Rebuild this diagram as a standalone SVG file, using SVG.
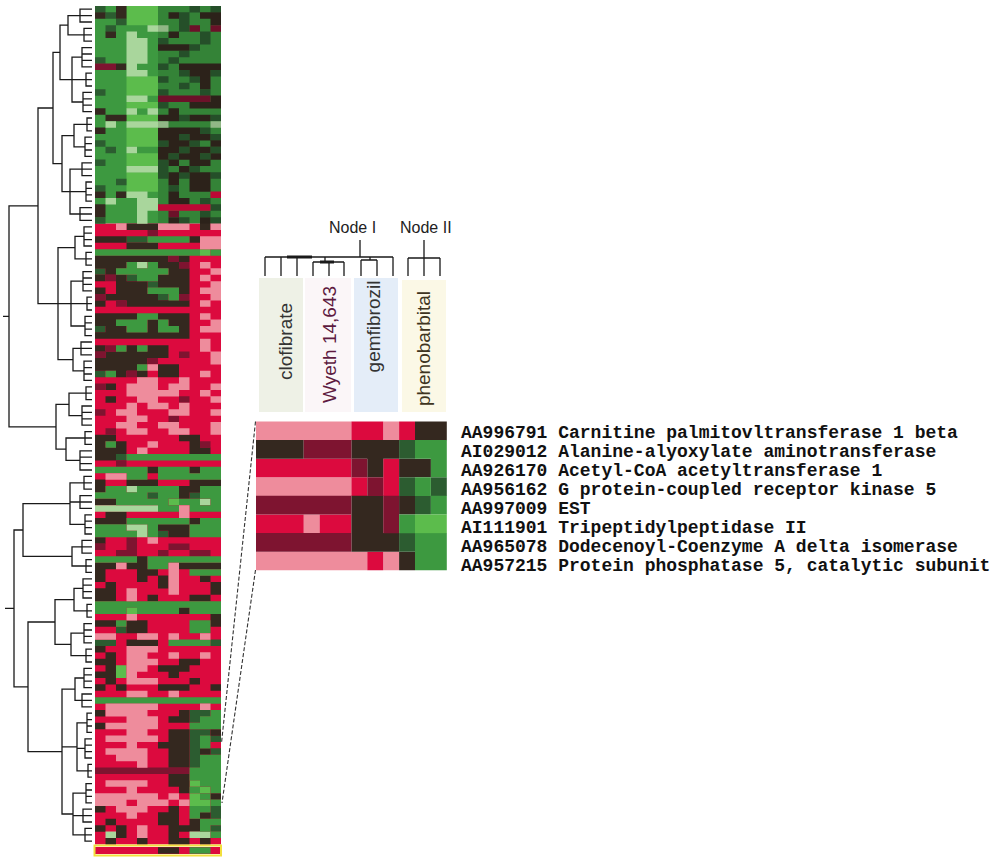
<svg xmlns="http://www.w3.org/2000/svg" width="991" height="858" viewBox="0 0 991 858">
<style>
.hm path{fill:none;stroke-width:6.5}
.zm path{fill:none;stroke-width:18.7}
.g{stroke:#3d9940}.b{stroke:#5cbc4c}.l{stroke:#a9d69c}.d{stroke:#2c5c30}.k{stroke:#34281f}.m{stroke:#7e1430}.r{stroke:#dc0a3e}.p{stroke:#ee8c9c}
.dg{fill:none;stroke:#1a1a1a;stroke-width:1.3}
.con{fill:none;stroke:#333;stroke-width:1.1;stroke-dasharray:4 2}
.lab{font-family:"Liberation Sans",Arial,sans-serif;font-size:19px;text-anchor:middle}
.node{font-family:"Liberation Sans",Arial,sans-serif;font-size:16px;fill:#222}
.gene{font-family:"Liberation Mono","Courier New",monospace;font-size:18px;font-weight:bold;fill:#111}
</style>
<rect width="991" height="858" fill="#fff"/>
<g id="row-dendrogram">
<path class="dg" d="M92 9.2H80V22H92M80 15.6H92M92 28.4H84V41.2H92M84 34.8H92M92 47.6H82V66.8H92M82 54H92M82 60.4H92M92 73.2H86V86H92M86 79.6H92M92 92.4H83V111.6H92M83 98.8H92M83 105.2H92M92 118H87V130.8H92M87 124.4H92M92 137.2H85V156.4H92M85 143.6H92M85 150H92M92 162.8H82V175.6H92M82 169.2H92M92 182H86V201.2H92M86 188.4H92M86 194.8H92M92 207.6H80V220.4H92M80 214H92M92 226.8H84V246H92M84 233.2H92M84 239.6H92M92 252.4H86V265.2H92M86 258.8H92M92 271.6H83V290.8H92M83 278H92M83 284.4H92M92 297.2H87V310H92M87 303.6H92M92 316.4H85V335.6H92M85 322.8H92M85 329.2H92M92 342H81V354.8H92M81 348.4H92M92 361.2H84V380.4H92M84 367.6H92M84 374H92M92 386.8H86V399.6H92M86 393.2H92M92 406H82V425.2H92M82 412.4H92M82 418.8H92M92 431.6H85V444.4H92M85 438H92M92 450.8H80V470H92M80 457.2H92M80 463.6H92M92 476.4H84V489.2H92M84 482.8H92M92 495.6H80V508.4H92M80 502H92M92 514.8H85V534H92M85 521.2H92M85 527.6H92M92 540.4H82V553.2H92M82 546.8H92M92 559.6H86V572.4H92M86 566H92M92 578.8H83V598H92M83 585.2H92M83 591.6H92M92 604.4H87V617.2H92M87 610.8H92M92 623.6H84V642.8H92M84 630H92M84 636.4H92M92 649.2H86V662H92M86 655.6H92M92 668.4H84V687.6H92M84 674.8H92M84 681.2H92M92 694H82V706.8H92M82 700.4H92M92 713.2H87V732.4H92M87 719.6H92M87 726H92M92 738.8H85V758H92M85 745.2H92M85 751.6H92M92 764.4H88V777.2H92M88 770.8H92M92 783.6H86V802.8H92M86 790H92M86 796.4H92M92 809.2H83V822H92M83 815.6H92M92 828.4H85V841.2H92M85 834.8H92"/>
<path class="dg" d="M80 15.6H68V34.8H84M82 57.2H72V102H83M72 79.6H86M87 124.4H74V146.8H85M82 169.2H70V214H80M70 191.6H86M84 236.4H75V258.8H86M83 281.2H71V326H85M71 303.6H87M81 348.4H73V370.8H84M86 393.2H69V415.6H82M85 438H66V460.4H80M84 482.8H70V524.4H85M70 502H80M82 546.8H72V566H86M83 588.4H74V610.8H87M84 633.2H71V655.6H86M84 678H75V700.4H82M87 722.8H77V770.8H88M77 748.4H85M86 793.2H73V834.8H85M73 815.6H83"/>
<path class="dg" d="M68 25.2H60V79.6H72M74 135.6H62V191.6H70M75 247.6H58V359.6H73M58 303.6H71M69 404.4H56V449.2H66M70 503.6H23V556.4H72M74 599.6H55V644.4H71M75 689.2H62V814H73M62 746.8H77"/>
<path class="dg" d="M60 52.4H53V163.6H62M53 108H38V303.6H58M38 205.8H9V426.8H56M3 316.3H9M55 622H28V751.6H62M23 530H14V686.8H28M5 608.4H14"/>
</g>
<g id="heatmap" class="hm">
<rect x="95" y="6" width="126" height="217.6" fill="#3d9940"/>
<rect x="95" y="223.6" width="126" height="620.8" fill="#dc0a3e"/>
<path class="b" d="M126.5 9.2h31.5M126.5 15.6h31.5M126.5 22h31.5M126.5 79.6h31.5M126.5 86h31.5M126.5 92.4h31.5M126.5 105.2h31.5M126.5 118h31.5M126.5 130.8h31.5M126.5 137.2h31.5M126.5 143.6h31.5M126.5 156.4h31.5M126.5 162.8h31.5M126.5 175.6h31.5M126.5 182h31.5M126.5 188.4h31.5M200 252.4h10.5M168.5 502h10.5M126.5 610.8h10.5M116 668.4h10.5M116 674.8h10.5M189.5 783.6h10.5M200 790h10.5M189.5 796.4h10.5M189.5 802.8h21"/>
<path class="d" d="M95 9.2h10.5M189.5 9.2h10.5M210.5 9.2h10.5M105.5 15.6h10.5M179 15.6h10.5M116 22h10.5M179 22h10.5M105.5 28.4h10.5M179 28.4h10.5M200 34.8h10.5M158 41.2h10.5M200 41.2h10.5M189.5 47.6h10.5M179 54h10.5M95 60.4h10.5M168.5 60.4h10.5M158 66.8h10.5M179 73.2h10.5M210.5 73.2h10.5M158 79.6h10.5M189.5 79.6h10.5M179 86h10.5M95 92.4h10.5M158 92.4h10.5M200 92.4h10.5M158 105.2h10.5M179 118h10.5M210.5 118h10.5M200 130.8h10.5M179 137.2h10.5M210.5 137.2h10.5M95 143.6h10.5M158 143.6h10.5M189.5 143.6h10.5M105.5 150h10.5M179 150h10.5M210.5 150h10.5M168.5 156.4h10.5M200 156.4h10.5M95 162.8h10.5M158 162.8h10.5M158 169.2h10.5M189.5 169.2h10.5M158 175.6h10.5M179 175.6h10.5M210.5 175.6h10.5M116 182h10.5M95 188.4h10.5M168.5 188.4h10.5M200 201.2h10.5M210.5 207.6h10.5M200 214h10.5M95 220.4h10.5M179 220.4h10.5M210.5 220.4h10.5M126.5 239.6h21M95 271.6h10.5M126.5 278h10.5M147.5 284.4h10.5M158 297.2h10.5M95 329.2h10.5M95 374h10.5M116 457.2h10.5M147.5 495.6h10.5M189.5 495.6h10.5M158 534h10.5M116 630h10.5M95 642.8h21M210.5 642.8h10.5M189.5 713.2h21M189.5 719.6h10.5M189.5 732.4h21M189.5 738.8h10.5M210.5 738.8h10.5M189.5 745.2h10.5M189.5 751.6h10.5M210.5 751.6h10.5M189.5 758h10.5M189.5 764.4h10.5M210.5 809.2h10.5M210.5 815.6h10.5M210.5 828.4h10.5"/>
<path class="k" d="M116 9.2h10.5M95 15.6h10.5M116 15.6h10.5M168.5 15.6h10.5M200 15.6h21M210.5 22h10.5M105.5 34.8h10.5M168.5 34.8h10.5M158 47.6h31.5M116 66.8h10.5M179 66.8h42M189.5 73.2h21M200 79.6h10.5M200 86h10.5M210.5 98.8h10.5M189.5 105.2h31.5M95 111.6h10.5M168.5 111.6h10.5M105.5 118h21M158 118h21M189.5 118h21M95 130.8h10.5M158 130.8h42M158 137.2h21M189.5 137.2h21M168.5 143.6h21M210.5 143.6h10.5M158 150h21M189.5 150h21M158 156.4h10.5M179 156.4h21M210.5 156.4h10.5M168.5 162.8h10.5M189.5 162.8h21M179 169.2h10.5M168.5 175.6h10.5M189.5 175.6h21M168.5 182h10.5M189.5 182h21M189.5 188.4h21M95 194.8h10.5M116 194.8h10.5M168.5 194.8h10.5M168.5 201.2h21M95 207.6h10.5M95 214h10.5M168.5 220.4h10.5M200 220.4h10.5M126.5 226.8h31.5M200 226.8h10.5M95 239.6h31.5M189.5 239.6h10.5M126.5 246h31.5M95 258.8h73.5M179 258.8h10.5M95 265.2h31.5M158 265.2h21M105.5 271.6h10.5M168.5 271.6h21M95 278h10.5M116 278h10.5M158 278h31.5M116 284.4h31.5M158 284.4h31.5M95 290.8h10.5M116 290.8h31.5M179 290.8h10.5M105.5 297.2h52.5M95 303.6h10.5M126.5 303.6h63M95 316.4h42M158 316.4h31.5M95 322.8h21M147.5 322.8h10.5M168.5 322.8h21M105.5 329.2h21M147.5 329.2h10.5M179 329.2h10.5M95 335.6h94.5M95 348.4h10.5M126.5 348.4h10.5M147.5 348.4h21M105.5 354.8h63M95 361.2h52.5M95 367.6h42M158 367.6h21M116 374h10.5M137 374h10.5M158 374h21M105.5 386.8h10.5M105.5 399.6h10.5M95 438h21M179 438h21M95 444.4h10.5M116 444.4h10.5M189.5 444.4h10.5M95 450.8h31.5M189.5 450.8h21M95 457.2h21M147.5 470h10.5M189.5 470h10.5M95 482.8h10.5M126.5 482.8h31.5M189.5 482.8h31.5M95 489.2h10.5M179 489.2h21M179 495.6h10.5M95 502h21M105.5 514.8h21M95 521.2h31.5M189.5 521.2h10.5M158 527.6h31.5M168.5 534h21M95 540.4h10.5M137 559.6h10.5M95 566h21M126.5 566h21M179 566h42M95 572.4h10.5M137 572.4h21M95 578.8h10.5M137 578.8h10.5M158 578.8h10.5M200 578.8h10.5M105.5 585.2h10.5M158 585.2h10.5M210.5 585.2h10.5M95 591.6h21M210.5 591.6h10.5M95 598h21M147.5 598h10.5M189.5 598h21M179 610.8h10.5M210.5 617.2h10.5M95 623.6h21M126.5 623.6h21M210.5 623.6h10.5M126.5 630h21M126.5 642.8h31.5M95 649.2h10.5M105.5 655.6h10.5M95 662h21M179 662h21M105.5 668.4h10.5M158 668.4h31.5M95 674.8h21M168.5 674.8h10.5M105.5 681.2h10.5M189.5 681.2h10.5M95 687.6h10.5M116 687.6h10.5M158 687.6h31.5M210.5 687.6h10.5M95 713.2h10.5M179 713.2h10.5M168.5 719.6h21M95 726h10.5M168.5 732.4h21M210.5 732.4h10.5M168.5 738.8h21M158 745.2h31.5M168.5 751.6h21M200 751.6h10.5M168.5 758h21M168.5 764.4h21M168.5 777.2h21M168.5 783.6h21M179 790h10.5M210.5 796.4h10.5M95 809.2h10.5M168.5 809.2h10.5M158 815.6h21M200 815.6h10.5M105.5 822h10.5M158 822h21M189.5 822h10.5M95 828.4h10.5M116 828.4h10.5M168.5 828.4h31.5M116 834.8h10.5M168.5 834.8h10.5M105.5 841.2h10.5M137 841.2h10.5M168.5 841.2h21M200 841.2h10.5"/>
<path class="m" d="M189.5 28.4h10.5M210.5 28.4h10.5M95 66.8h21M158 98.8h52.5M168.5 214h10.5M147.5 233.2h10.5M168.5 258.8h10.5M179 265.2h10.5M105.5 278h10.5M95 297.2h10.5M179 297.2h10.5M116 303.6h10.5M105.5 348.4h10.5M95 354.8h10.5M179 354.8h10.5M147.5 361.2h10.5M126.5 374h10.5M95 386.8h10.5M179 399.6h10.5M95 412.4h10.5M168.5 418.8h10.5M105.5 431.6h10.5M200 444.4h10.5M116 463.6h10.5M126.5 540.4h10.5M95 546.8h10.5M126.5 546.8h10.5M168.5 546.8h21M116 553.2h21M158 553.2h10.5M189.5 553.2h21M95 770.8h94.5"/>
<path class="r" d="M210.5 194.8h10.5M158 207.6h52.5"/>
<path class="l" d="M147.5 28.4h21M126.5 34.8h10.5M126.5 41.2h21M126.5 47.6h21M126.5 54h21M126.5 60.4h21M126.5 66.8h10.5M126.5 73.2h21M126.5 98.8h21M126.5 111.6h10.5M147.5 111.6h10.5M105.5 124.4h10.5M126.5 124.4h42M210.5 124.4h10.5M126.5 150h10.5M126.5 169.2h31.5M126.5 194.8h21M105.5 201.2h10.5M137 201.2h21M137 207.6h21M137 214h10.5M137 220.4h10.5M137 265.2h10.5M126.5 489.2h10.5M200 502h10.5M95 508.4h63M126.5 527.6h21M137 534h10.5M105.5 834.8h10.5M189.5 834.8h21"/>
<path class="g" d="M147.5 239.6h42M95 252.4h105M210.5 252.4h10.5M126.5 265.2h10.5M147.5 265.2h10.5M116 271.6h52.5M137 278h21M147.5 290.8h31.5M168.5 297.2h10.5M137 316.4h21M116 322.8h31.5M158 322.8h10.5M126.5 329.2h21M158 329.2h21M116 348.4h10.5M137 348.4h10.5M137 367.6h10.5M105.5 374h10.5M105.5 444.4h10.5M126.5 457.2h94.5M95 470h52.5M158 470h31.5M200 470h21M126.5 476.4h21M158 476.4h63M105.5 489.2h21M137 489.2h42M200 489.2h21M95 495.6h52.5M158 495.6h21M200 495.6h21M116 502h52.5M179 502h21M210.5 502h10.5M158 508.4h21M189.5 508.4h31.5M126.5 521.2h63M200 521.2h21M95 527.6h31.5M147.5 527.6h10.5M189.5 527.6h31.5M95 534h42M147.5 534h10.5M189.5 534h31.5M95 559.6h42M147.5 559.6h73.5M147.5 566h21M189.5 572.4h31.5M95 604.4h126M95 610.8h31.5M137 610.8h42M189.5 610.8h31.5M116 623.6h10.5M189.5 623.6h21M189.5 630h21M168.5 642.8h42M95 700.4h126M210.5 713.2h10.5M200 719.6h21M189.5 726h31.5M200 738.8h10.5M200 745.2h10.5M200 758h21M200 764.4h21M189.5 770.8h31.5M189.5 777.2h31.5M200 783.6h21M189.5 790h10.5M210.5 790h10.5M200 796.4h10.5M210.5 802.8h10.5M189.5 809.2h21M189.5 815.6h10.5M200 822h21M200 828.4h10.5M210.5 834.8h10.5"/>
<path class="p" d="M116 226.8h10.5M158 226.8h31.5M210.5 226.8h10.5M200 239.6h21M200 246h21M200 265.2h10.5M210.5 271.6h10.5M200 278h10.5M210.5 284.4h10.5M200 290.8h21M210.5 297.2h10.5M200 303.6h10.5M200 316.4h10.5M210.5 322.8h10.5M200 329.2h21M200 342h10.5M200 348.4h10.5M210.5 354.8h10.5M210.5 361.2h10.5M147.5 367.6h10.5M200 374h10.5M137 380.4h21M179 380.4h10.5M126.5 386.8h31.5M168.5 386.8h21M210.5 386.8h10.5M126.5 393.2h52.5M200 393.2h10.5M137 399.6h21M210.5 399.6h10.5M126.5 406h10.5M147.5 406h21M179 406h10.5M116 412.4h21M168.5 412.4h21M210.5 412.4h10.5M126.5 418.8h21M116 425.2h21M158 425.2h21M210.5 425.2h10.5M126.5 431.6h21M168.5 431.6h21M210.5 431.6h10.5M147.5 444.4h10.5M137 450.8h10.5M105.5 476.4h21M179 508.4h10.5M179 514.8h10.5M147.5 540.4h10.5M116 566h10.5M168.5 566h10.5M168.5 572.4h10.5M168.5 578.8h10.5M168.5 585.2h10.5M126.5 591.6h10.5M168.5 591.6h10.5M126.5 598h10.5M126.5 617.2h10.5M95 636.4h21M137 636.4h21M168.5 636.4h10.5M200 636.4h10.5M126.5 649.2h31.5M126.5 655.6h21M168.5 655.6h10.5M200 655.6h10.5M126.5 662h31.5M126.5 668.4h21M126.5 674.8h10.5M126.5 681.2h31.5M126.5 694h21M168.5 694h10.5M105.5 706.8h52.5M200 706.8h10.5M105.5 713.2h42M126.5 719.6h31.5M105.5 726h52.5M126.5 732.4h21M105.5 738.8h52.5M126.5 745.2h10.5M105.5 751.6h42M116 758h31.5M137 764.4h10.5M105.5 783.6h42M126.5 790h10.5M95 796.4h63M168.5 796.4h10.5M95 802.8h31.5M137 802.8h31.5M179 802.8h10.5M116 809.2h31.5M126.5 815.6h10.5M137 828.4h10.5M137 834.8h10.5"/>
<rect x="158" y="6" width="63" height="217.6" fill="#000" opacity="0.14"/>
</g>
<g id="selection-band" class="hm">
<rect x="95" y="847" width="125" height="7" fill="#dc0a3e"/>
<path class="k" d="M158 850.5h21"/>
<path class="g" d="M189.5 850.5h21"/>
<rect x="94.5" y="845.5" width="126.5" height="10" fill="none" stroke="#f2df3c" stroke-width="2"/>
</g>
<g id="connectors">
<path class="con" d="M255.5 421.5L221.5 743"/>
<path class="con" d="M255.5 570L222 803"/>
</g>
<g id="column-dendrogram">
<path class="dg" d="M360 240V257M265 257H393M265 257V276M281 257V276M297 257V276M325 257V262M313 262H344M313 262V276M329 262V276M344 262V276M370 257V260M361 260H377M361 260V276M377 260V276M393 257V276M424 240V258M408 258H440M408 258V276M424 258V276M440 258V276"/>
<path d="M287 257H312M320 262H334" stroke="#1a1a1a" stroke-width="3" fill="none"/>
</g>
<g id="node-I"><text class="node" x="329" y="233">Node I</text></g>
<g id="node-II"><text class="node" x="400" y="233">Node II</text></g>
<g id="label-clofibrate">
<rect x="259" y="278" width="44" height="134" fill="#eef1e6"/>
<text class="lab" fill="#333" transform="translate(292,341.5) rotate(-90)">clofibrate</text>
</g>
<g id="label-wyeth">
<rect x="305" y="278" width="46" height="134" fill="#fbf6f8"/>
<text class="lab" fill="#5e1a40" transform="translate(336,344.5) rotate(-90)">Wyeth 14,643</text>
</g>
<g id="label-gemfibrozil">
<rect x="354" y="278" width="44" height="134" fill="#e4edf8"/>
<text class="lab" fill="#333" transform="translate(380,326.5) rotate(-90)">gemfibrozil</text>
</g>
<g id="label-phenobarbital">
<rect x="402" y="280" width="44" height="132" fill="#fbf8e6"/>
<text class="lab" fill="#3e3420" transform="translate(430,348.5) rotate(-90)">phenobarbital</text>
</g>
<g id="zoom-heatmap" class="zm">
<path class="p" d="M256 430.8h95.4M383.2 430.8h15.9M256 486.6h95.4M303.7 523.8h15.9M256 561h111.3M383.2 561h15.9"/>
<path class="r" d="M351.4 430.8h31.8M399.1 430.8h15.9M256 468h95.4M383.2 468h15.9M351.4 486.6h15.9M383.2 486.6h15.9M256 523.8h47.7M319.6 523.8h31.8M367.3 561h15.9"/>
<path class="k" d="M415 430.8h31.8M256 449.4h47.7M351.4 449.4h47.7M367.3 468h15.9M399.1 468h31.8M351.4 505.2h31.8M399.1 505.2h15.9M351.4 523.8h31.8M351.4 542.4h47.7M399.1 561h15.9"/>
<path class="m" d="M303.7 449.4h47.7M351.4 468h15.9M367.3 486.6h15.9M256 505.2h95.4M383.2 505.2h15.9M383.2 523.8h15.9M256 542.4h95.4"/>
<path class="d" d="M399.1 449.4h15.9M399.1 486.6h15.9M430.9 486.6h15.9M415 505.2h15.9M399.1 542.4h15.9"/>
<path class="g" d="M415 449.4h31.8M430.9 468h15.9M415 486.6h15.9M430.9 505.2h15.9M399.1 523.8h15.9M415 542.4h31.8M415 561h31.8"/>
<path class="b" d="M415 523.8h31.8"/>
</g>
<g id="gene-labels">
<text class="gene" x="461" y="438">AA996791 Carnitine palmitovltransferase 1 beta</text>
<text class="gene" x="461" y="457">AI029012 Alanine-alyoxylate aminotransferase</text>
<text class="gene" x="461" y="476">AA926170 Acetyl-CoA acetyltransferase 1</text>
<text class="gene" x="461" y="495">AA956162 G protein-coupled receptor kinase 5</text>
<text class="gene" x="461" y="514">AA997009 EST</text>
<text class="gene" x="461" y="533">AI111901 Tripeptidylpeptidase II</text>
<text class="gene" x="461" y="552">AA965078 Dodecenoyl-Coenzyme A delta isomerase</text>
<text class="gene" x="461" y="571">AA957215 Protein phosphatase 5, catalytic subunit</text>
</g>
</svg>
